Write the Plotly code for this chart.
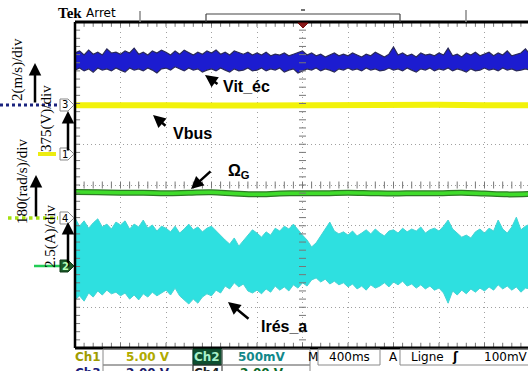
import plotly.graph_objects as go

# ---------------- data (screen divisions, time in seconds; 400 ms/div) ----------------
t_band = [round(i * 0.04, 2) for i in range(101)]

vit_ec_hi = [7.24, 7.29, 7.19, 7.31, 7.21, 7.26, 7.19, 7.34, 7.24, 7.26,
             7.21, 7.29, 7.24, 7.36, 7.21, 7.26, 7.19, 7.29, 7.24, 7.31,
             7.26, 7.19, 7.29, 7.21, 7.31, 7.24, 7.19, 7.26, 7.21, 7.29,
             7.24, 7.31, 7.21, 7.26, 7.19, 7.29, 7.24, 7.21, 7.26, 7.19,
             7.24, 7.19, 7.26, 7.17, 7.21, 7.19, 7.24, 7.17, 7.21, 7.26,
             7.29, 7.19, 7.24, 7.17, 7.21, 7.14, 7.19, 7.24, 7.17, 7.21,
             7.17, 7.24, 7.19, 7.14, 7.21, 7.17, 7.26, 7.19, 7.14, 7.21,
             7.39, 7.19, 7.24, 7.17, 7.21, 7.14, 7.24, 7.19, 7.21, 7.17,
             7.24, 7.19, 7.36, 7.17, 7.21, 7.14, 7.24, 7.19, 7.26, 7.17,
             7.21, 7.26, 7.17, 7.24, 7.19, 7.29, 7.17, 7.21, 7.24, 7.34, 7.21]
vit_ec_lo = [6.82, 6.87, 6.80, 6.85, 6.77, 6.87, 6.82, 6.85, 6.80, 6.87,
             6.82, 6.77, 6.87, 6.82, 6.85, 6.80, 6.87, 6.82, 6.75, 6.85,
             6.87, 6.82, 6.90, 6.85, 6.80, 6.87, 6.82, 6.85, 6.77, 6.82,
             6.85, 6.80, 6.87, 6.82, 6.77, 6.85, 6.80, 6.82, 6.87, 6.80,
             6.82, 6.87, 6.80, 6.85, 6.82, 6.87, 6.77, 6.82, 6.85, 6.75,
             6.80, 6.85, 6.82, 6.87, 6.80, 6.85, 6.82, 6.77, 6.85, 6.82,
             6.87, 6.82, 6.85, 6.80, 6.87, 6.82, 6.85, 6.80, 6.82, 6.87,
             6.82, 6.85, 6.80, 6.87, 6.82, 6.77, 6.85, 6.82, 6.87, 6.80,
             6.85, 6.82, 6.87, 6.80, 6.85, 6.82, 6.77, 6.85, 6.80, 6.82,
             6.87, 6.82, 6.85, 6.80, 6.87, 6.82, 6.85, 6.80, 6.82, 6.85, 6.82]

t_vbus = [0.0, 0.4, 0.8, 1.2, 1.6, 2.0, 2.4, 2.8, 3.2, 3.6, 4.0]
vbus = [5.96, 5.97, 5.96, 5.95, 5.96, 5.97, 5.96, 5.96, 5.97, 5.96, 5.96]

t_omega = [0.0, 0.2, 0.4, 0.6, 0.8, 1.0, 1.2, 1.4, 1.6, 1.8, 2.0,
           2.2, 2.4, 2.6, 2.8, 3.0, 3.2, 3.4, 3.6, 3.8, 4.0]
omega_g = [3.83, 3.82, 3.81, 3.81, 3.80, 3.81, 3.82, 3.79, 3.77, 3.79, 3.80,
           3.80, 3.81, 3.80, 3.79, 3.80, 3.80, 3.81, 3.79, 3.77, 3.78]

ires_hi = [3.19, 2.99, 3.12, 2.94, 3.07, 3.17, 2.97, 3.04, 2.92, 3.09,
           3.02, 3.12, 2.92, 3.04, 2.97, 3.14, 2.94, 3.02, 2.87, 2.99,
           2.94, 2.85, 2.99, 2.82, 2.92, 3.04, 2.90, 2.97, 2.85, 2.94,
           2.99, 2.87, 2.77, 2.65, 2.55, 2.70, 2.50, 2.63, 2.75, 2.90,
           2.82, 2.72, 2.85, 2.77, 2.94, 2.87, 2.99, 2.92, 3.04, 2.90,
           2.77, 2.65, 2.48, 2.58, 2.75, 2.92, 3.09, 2.87, 2.80, 2.85,
           2.77, 2.87, 2.75, 2.82, 2.90, 2.80, 2.92, 2.82, 2.75, 2.87,
           2.90, 2.82, 2.94, 2.85, 2.92, 2.87, 2.97, 2.82, 2.90, 2.94,
           2.87, 2.99, 3.14, 2.92, 2.82, 2.72, 2.77, 2.70, 2.85, 2.92,
           2.82, 2.94, 2.87, 3.14, 2.92, 2.82, 2.97, 3.21, 2.90, 2.99, 3.04]
ires_lo = [1.18, 1.28, 1.15, 1.35, 1.25, 1.40, 1.30, 1.42, 1.33, 1.37,
           1.28, 1.35, 1.20, 1.30, 1.18, 1.33, 1.25, 1.37, 1.28, 1.35,
           1.42, 1.30, 1.47, 1.28, 1.18, 1.08, 1.20, 1.10, 1.25, 1.33,
           1.28, 1.42, 1.35, 1.52, 1.45, 1.60, 1.50, 1.57, 1.40, 1.35,
           1.42, 1.33, 1.45, 1.37, 1.52, 1.42, 1.50, 1.40, 1.55, 1.47,
           1.60, 1.52, 1.67, 1.72, 1.62, 1.69, 1.57, 1.64, 1.55, 1.60,
           1.50, 1.57, 1.45, 1.52, 1.42, 1.55, 1.47, 1.52, 1.60, 1.50,
           1.62, 1.55, 1.64, 1.52, 1.57, 1.47, 1.55, 1.45, 1.52, 1.42,
           1.47, 1.35, 1.10, 1.40, 1.30, 1.42, 1.33, 1.45, 1.37, 1.47,
           1.40, 1.50, 1.42, 1.55, 1.45, 1.52, 1.42, 1.50, 1.37, 1.47, 1.45]

trace_labels = ["Vit_éc", "Vbus", "Ω<sub>G</sub>", "Irés_a"]
scale_labels = ["2(m/s)/div", "375(V)/div", "180(rad/s)/div", "2.5(A)/div"]
bottom_row1 = ["Ch1", "5.00 V", "Ch2", "500mV", "M", "400ms", "A", "Ligne", "ʃ", "100mV"]
bottom_row2 = ["Ch3", "2.00 V", "Ch4", "2.00 V"]

# ---------------- figure ----------------
W, H = 528, 371
L, T, B = 75, 22, 348


def P(px, py):
    return (px - L) / (W - L), (B - py) / (B - T)


fig = go.Figure()

# Irés_a band
fig.add_trace(go.Scatter(x=t_band, y=ires_lo, mode="lines",
                         line=dict(color="#45d4d4", width=1), hoverinfo="skip"))
fig.add_trace(go.Scatter(x=t_band, y=ires_hi, mode="lines", fill="tonexty",
                         fillcolor="#2ee0e0", line=dict(color="#45d4d4", width=1),
                         hoverinfo="skip"))
# Vit_éc band
fig.add_trace(go.Scatter(x=t_band, y=vit_ec_lo, mode="lines",
                         line=dict(color="#2a2a5a", width=1.2), hoverinfo="skip"))
fig.add_trace(go.Scatter(x=t_band, y=vit_ec_hi, mode="lines", fill="tonexty",
                         fillcolor="#1c1cd0", line=dict(color="#2a2a5a", width=1.2),
                         hoverinfo="skip"))
# Vbus
fig.add_trace(go.Scatter(x=t_vbus, y=vbus, mode="lines",
                         line=dict(color="#f2f20a", width=6), hoverinfo="skip"))
# Omega_G
fig.add_trace(go.Scatter(x=t_omega, y=omega_g, mode="lines", line_shape="spline",
                         line=dict(color="#2e7a24", width=6), hoverinfo="skip"))
fig.add_trace(go.Scatter(x=t_omega, y=omega_g, mode="lines", line_shape="spline",
                         line=dict(color="#3fdc2a", width=3.5), hoverinfo="skip"))

# graticule centre cross and edge ticks
tk_x = [round(k * 0.08, 2) for k in range(51)]
tk_y = [round(k * 0.2, 1) for k in range(41)]
fig.add_trace(go.Scatter(x=tk_x, y=[4] * len(tk_x), mode="markers",
                         marker=dict(symbol="line-ns", size=5, line=dict(color="#777", width=1)),
                         hoverinfo="skip"))
fig.add_trace(go.Scatter(x=[2.0] * len(tk_y), y=tk_y, mode="markers",
                         marker=dict(symbol="line-ew", size=5, line=dict(color="#777", width=1)),
                         hoverinfo="skip"))
fig.add_trace(go.Scatter(x=tk_x, y=[7.95] * len(tk_x), mode="markers",
                         marker=dict(symbol="line-ns", size=4, line=dict(color="#777", width=1)),
                         hoverinfo="skip"))
fig.add_trace(go.Scatter(x=tk_x, y=[0.06] * len(tk_x), mode="markers",
                         marker=dict(symbol="line-ns", size=4, line=dict(color="#777", width=1)),
                         hoverinfo="skip"))
fig.add_trace(go.Scatter(x=[0.02] * len(tk_y), y=tk_y, mode="markers",
                         marker=dict(symbol="line-ew", size=4, line=dict(color="#777", width=1)),
                         hoverinfo="skip"))

shapes = []


def line_px(x0, y0, x1, y1, color, width, dash="solid"):
    a, b = P(x0, y0)
    c, d = P(x1, y1)
    shapes.append(dict(type="line", xref="paper", yref="paper", x0=a, y0=b, x1=c, y1=d,
                       line=dict(color=color, width=width, dash=dash)))


def rect_px(x0, y0, x1, y1, color="#8a8a8a", fill="rgba(0,0,0,0)", width=1):
    a, b = P(x0, y0)
    c, d = P(x1, y1)
    shapes.append(dict(type="rect", xref="paper", yref="paper", x0=a, y0=b, x1=c, y1=d,
                       line=dict(color=color, width=width), fillcolor=fill))


def path_px(pts, color, fill, width=1):
    s = ""
    for i, (px, py) in enumerate(pts):
        a, b = P(px, py)
        s += ("M" if i == 0 else "L") + f"{a:.5f},{b:.5f} "
    s += "Z"
    shapes.append(dict(type="path", xref="paper", yref="paper", path=s,
                       line=dict(color=color, width=width), fillcolor=fill))


# plot borders
line_px(75, 22, 528, 22, "black", 3)
line_px(75, 348, 528, 348, "black", 3)
line_px(75, 22, 75, 348, "black", 2.5)

# top status bar
line_px(140, 11, 140, 22, "#888", 1.5)
line_px(466, 10, 466, 22, "#888", 1.5)
line_px(206, 14, 400, 14, "#444", 1.2)
line_px(206, 14, 206, 22, "#444", 1.2)
line_px(400, 14, 400, 22, "#444", 1.2)
line_px(301, 10, 305, 10, "#444", 1.5)
path_px([(298, 23), (308, 23), (303, 28)], "#7a1010", "#8b1a1a")

# channel reference markers on the left
line_px(0, 105, 58, 105, "#1a237e", 3, "dot")
line_px(38, 154, 56, 154, "#ecec10", 4)
line_px(8, 218, 58, 218, "#a6e010", 3.5, "dot")
line_px(34, 266, 60, 266, "#22cc55", 2.5)
for yc, fill in [(105, "white"), (154, "white"), (218, "white"), (266, "#1c5a28")]:
    path_px([(60, yc - 6), (68, yc - 6), (74, yc), (68, yc + 6), (60, yc + 6)],
            "#888" if fill == "white" else "#0e3a18", fill)

# bottom info boxes
rect_px(103, 349, 193, 365)
rect_px(193, 349, 222, 365, color="#0b3a20", fill="#0f4f30")
rect_px(222, 349, 310, 365)
rect_px(318, 349, 380, 365)
rect_px(400, 349, 535, 365)
rect_px(103, 365, 193, 385)
rect_px(193, 365, 222, 385, color="#333")
rect_px(222, 365, 310, 385)

annotations = []


def text_px(px, py, text, size=14, color="black", family="Liberation Sans",
            angle=0, xanchor="center"):
    a, b = P(px, py)
    annotations.append(dict(x=a, y=b, xref="paper", yref="paper", text=text,
                            showarrow=False, textangle=angle, xanchor=xanchor,
                            yanchor="middle",
                            font=dict(size=size, color=color, family=family)))


def arrow_px(hx, hy, tx, ty, width=2.5, head=2, size=1.0):
    a, b = P(hx, hy)
    annotations.append(dict(x=a, y=b, xref="paper", yref="paper", text="",
                            showarrow=True, ax=tx - hx, ay=ty - hy,
                            arrowhead=head, arrowsize=size, arrowwidth=width,
                            arrowcolor="black", font=dict(size=10)))


# trace labels with arrows
text_px(246, 87, "<b>" + trace_labels[0] + "</b>", 16)
arrow_px(205, 75, 219, 85)
text_px(192, 133, "<b>" + trace_labels[1] + "</b>", 16)
arrow_px(153, 115, 167, 127)
text_px(239, 171, "<b>" + trace_labels[2] + "</b>", 16)
arrow_px(191, 189, 212, 170)
text_px(284, 326, "<b>" + trace_labels[3] + "</b>", 16)
arrow_px(228, 302, 250, 320)

# scale labels (rotated) and vertical arrows
text_px(17, 70, scale_labels[0], 15, family="Liberation Serif", angle=-90)
arrow_px(35, 63, 35, 104)
text_px(47, 119, scale_labels[1], 15, family="Liberation Serif", angle=-90)
arrow_px(68, 111, 68, 152)
text_px(22, 182, scale_labels[2], 15, family="Liberation Serif", angle=-90)
arrow_px(36, 175, 36, 218)
text_px(50, 237, scale_labels[3], 15, family="Liberation Serif", angle=-90)
arrow_px(68, 222, 68, 268)

# channel numbers inside markers
text_px(65, 105, "3", 10, "black", "DejaVu Sans")
text_px(65, 154, "1", 10, "black", "DejaVu Sans")
text_px(65, 218, "4", 10, "black", "DejaVu Sans")
text_px(65, 266, "<b>2</b>", 10, "#b8ffb8", "DejaVu Sans")

# top status text
text_px(56, 13, "<b>Tek</b>", 15, "black", "Liberation Serif", xanchor="left")
text_px(84, 13, "Arret", 12, "black", "DejaVu Sans", xanchor="left")

# bottom status text
F = "DejaVu Sans"
text_px(88, 357, "<b>" + bottom_row1[0] + "</b>", 12, "#a09c00", F)
text_px(148, 357, "<b>" + bottom_row1[1] + "</b>", 12, "#b0aa00", F)
text_px(207, 357, "<b>" + bottom_row1[2] + "</b>", 12, "#a8f0c8", F)
text_px(262, 357, "<b>" + bottom_row1[3] + "</b>", 12, "#12888a", F)
text_px(313, 357, bottom_row1[4], 12, "black", F)
text_px(349, 357, bottom_row1[5], 12, "black", F)
text_px(393, 357, bottom_row1[6], 12, "black", F)
text_px(427, 357, bottom_row1[7], 12, "black", F)
text_px(455, 357, "<b>" + bottom_row1[8] + "</b>", 12, "black", F)
text_px(482, 357, bottom_row1[9], 12, "black", F, xanchor="left")
text_px(88, 373, "<b>" + bottom_row2[0] + "</b>", 12, "#1a1a7a", F)
text_px(148, 373, "<b>" + bottom_row2[1] + "</b>", 12, "#1a1a6a", F)
text_px(207, 373, "<b>" + bottom_row2[2] + "</b>", 12, "#222", F)
text_px(262, 373, "<b>" + bottom_row2[3] + "</b>", 12, "#0a6a2a", F)

fig.update_layout(
    width=W, height=H,
    margin=dict(l=L, r=0, t=T, b=H - B, pad=0),
    paper_bgcolor="white", plot_bgcolor="white",
    showlegend=False,
    shapes=shapes, annotations=annotations,
    xaxis=dict(range=[0, (W - L) / 45.5 * 0.4], tick0=0, dtick=0.4,
               showgrid=True, gridcolor="#a0a0a0", gridwidth=1, griddash="1px,4px",
               zeroline=False, showticklabels=False, ticks="", showline=False),
    yaxis=dict(range=[0, 8], tick0=0, dtick=1,
               showgrid=True, gridcolor="#a0a0a0", gridwidth=1, griddash="1px,3px",
               zeroline=False, showticklabels=False, ticks="", showline=False),
)

fig.write_html("out.html")
